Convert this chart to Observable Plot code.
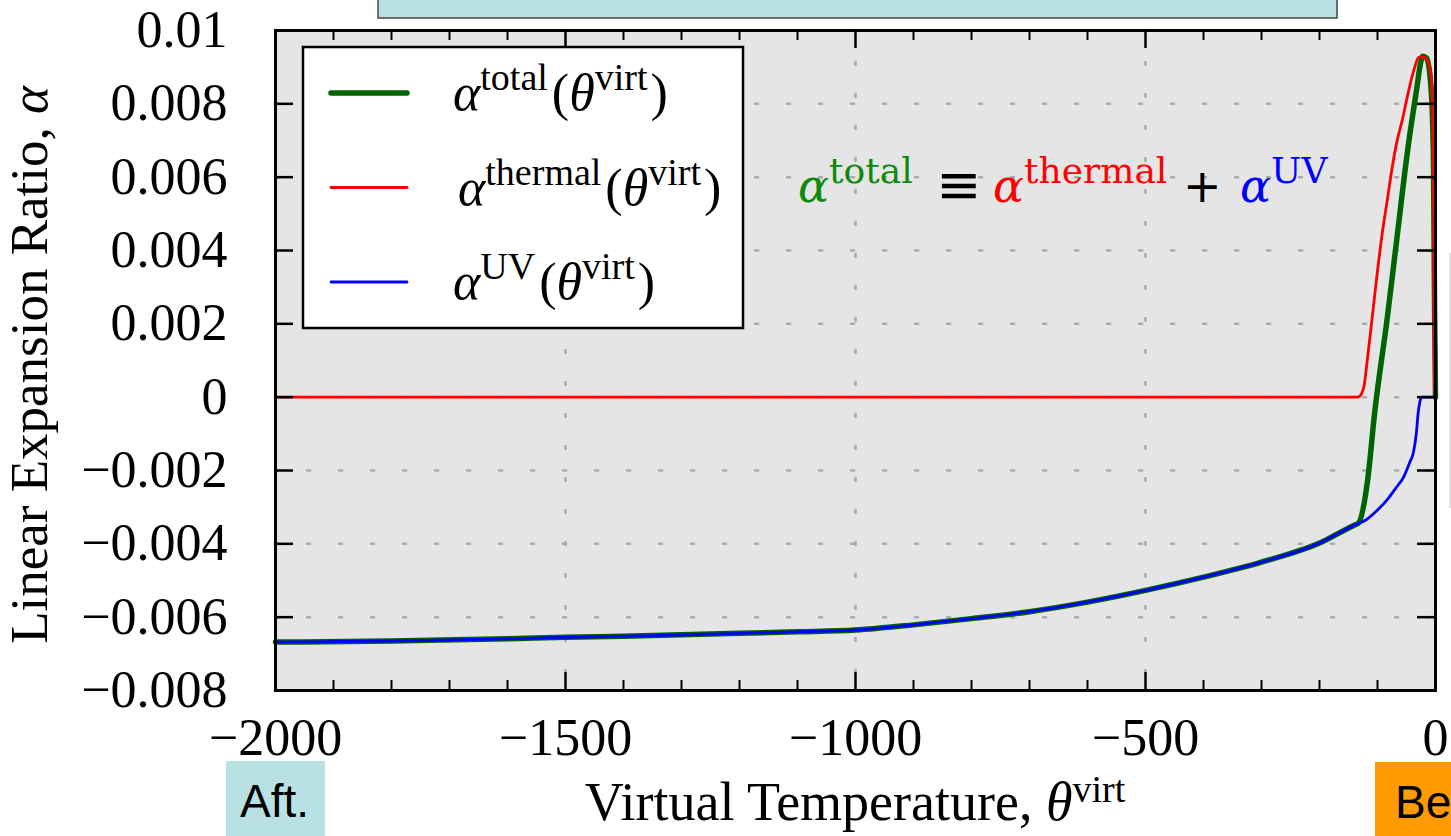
<!DOCTYPE html>
<html><head><meta charset="utf-8">
<script src="https://cdn.jsdelivr.net/npm/d3@7"></script>
<script src="https://cdn.jsdelivr.net/npm/@observablehq/plot@0.6"></script>
<style>
body{margin:0;background:#fff;overflow:hidden}
#chart{position:relative;width:1451px;height:836px}
</style>
</head><body><div id="chart"></div>
<script>
// ---------- data ----------
const xMajorTicks = [-2000, -1500, -1000, -500, 0];
const xMinorTicks = [-1900, -1800, -1700, -1600, -1400, -1300, -1200, -1100, -900, -800, -700, -600, -400, -300, -200, -100];
const xGridTicks = [-1500, -1000, -500];
const yTicks = [-0.008, -0.006, -0.004, -0.002, 0, 0.002, 0.004, 0.006, 0.008, 0.01];

const uvTheta = [-2000, -1800, -1600, -1500, -1400, -1250, -1100, -1000, -900, -800, -700, -600, -500, -400, -300, -200, -140, -120, -100, -80, -67, -55, -45, -38, -33, -30, -27, -24, 0];
const uvAlpha = [-0.00668, -0.00665, -0.00659, -0.00655, -0.00652, -0.00646, -0.00640, -0.00635, -0.00621, -0.00604, -0.00585, -0.00559, -0.00527, -0.00491, -0.00450, -0.00398, -0.00349, -0.00335, -0.00308, -0.00273, -0.00245, -0.00218, -0.00180, -0.00150, -0.00098, -0.00044, -0.00013, 0, 0];

const thermalTheta = [-2000, -135, -132, -123.5, -117.7, -109, -100.5, -91.8, -83.2, -74.6, -66, -57.4, -48.8, -37.3, -28.7, -20, -11.5, -6.9, -4, -2.9, -1.7, 0];
const thermalAlpha = [0, 0, 0.00001, 0.00028, 0.001, 0.00219, 0.00338, 0.00447, 0.00537, 0.00627, 0.00701, 0.00755, 0.00818, 0.00892, 0.00927, 0.00927, 0.0091, 0.00864, 0.0072, 0.00355, 0.0003, 0];

const totalTheta = [-2000, -1800, -1600, -1500, -1400, -1250, -1100, -1000, -900, -800, -700, -600, -500, -400, -300, -200, -140, -133, -117, -105, -83, -65.5, -48, -31, -26, -22, -15.5, -8.6, -5, -3.4, -1.7, 0];
const totalAlpha = [-0.00668, -0.00665, -0.00659, -0.00655, -0.00652, -0.00646, -0.00640, -0.00635, -0.00621, -0.00604, -0.00585, -0.00559, -0.00527, -0.00491, -0.00450, -0.00398, -0.00349, -0.00344, -0.00226, -0.00044, 0.00218, 0.00447, 0.00674, 0.00856, 0.0091, 0.0093, 0.00925, 0.0086, 0.0075, 0.0063, 0.0026, 0];

const seriesNames = ["total", "thermal", "UV"];
const seriesColors = ["#006400", "#ff0000", "#0000ff"];
const eqColors = ["#0c8a0c", "#ff0000", "#0000ff"];
const seriesWidths = [5.5, 2.8, 2.8];

// ---------- layout ----------
const W = 1451, H = 836, mL = 275, mR = 16, mT = 30, mB = 146;
const innerW = W - mL - mR, innerH = H - mT - mB;
const SERIF = "'Liberation Serif', 'Times New Roman', serif";
const SANS = "'Liberation Sans', Arial, sans-serif";
const minus = d => d === 0 ? "0" : String(d).replace("-", "\u2212");
const rows = (th, al) => th.map((t, i) => ({theta: t, alpha: al[i]}));
const seriesData = [rows(totalTheta, totalAlpha), rows(thermalTheta, thermalAlpha), rows(uvTheta, uvAlpha)];

const dotted = {stroke: "#aaaaaa", strokeOpacity: 1, strokeWidth: 2.5, strokeDasharray: "3,29", strokeLinecap: "round"};

const chart = Plot.plot({
  width: W, height: H,
  marginLeft: mL, marginRight: mR, marginTop: mT, marginBottom: mB,
  style: {fontFamily: SERIF, fontSize: "52px", background: "white", color: "black", overflow: "visible"},
  x: {domain: [-2000, 0]},
  y: {domain: [-0.008, 0.01]},
  marks: [
    Plot.frame({fill: "#e5e5e5", stroke: null}),
    Plot.gridX(xGridTicks, dotted),
    Plot.gridY(yTicks, dotted),
    ...seriesData.map((d, i) => Plot.line(d, {x: "theta", y: "alpha", stroke: seriesColors[i], strokeWidth: seriesWidths[i], curve: "monotone-x"})),
    // inward ticks
    Plot.ruleX(xMajorTicks, {x: d => d, insetTop: innerH - 18, stroke: "black", strokeWidth: 2.5}),
    Plot.ruleX(xMajorTicks, {x: d => d, insetBottom: innerH - 18, stroke: "black", strokeWidth: 2.5}),
    Plot.ruleX(xMinorTicks, {x: d => d, insetTop: innerH - 10, stroke: "black", strokeWidth: 2}),
    Plot.ruleX(xMinorTicks, {x: d => d, insetBottom: innerH - 10, stroke: "black", strokeWidth: 2}),
    Plot.ruleY(yTicks, {y: d => d, insetRight: innerW - 18, stroke: "black", strokeWidth: 2.5}),
    Plot.ruleY(yTicks, {y: d => d, insetLeft: innerW - 18, stroke: "black", strokeWidth: 2.5}),
    Plot.axisX(xMajorTicks, {tickSize: 0, tickPadding: 28, tickFormat: minus, label: null, fontSize: 52}),
    Plot.axisY(yTicks, {tickSize: 0, tickPadding: 48, tickFormat: minus, label: null, fontSize: 52}),
    Plot.frame({stroke: "black", strokeWidth: 3})
  ]
});
document.getElementById("chart").appendChild(chart);

// ---------- overlays ----------
const svg = d3.select(chart);

function mathText(parent, x, y, pieces, opts = {}) {
  const t = parent.append("text").attr("x", x).attr("y", y)
    .attr("font-family", opts.family || SERIF).attr("font-size", opts.size || 52)
    .attr("fill", opts.fill || "black")
    .attr("text-anchor", opts.anchor || "start");
  if (opts.transform) t.attr("transform", opts.transform);
  let raised = 0;
  pieces.forEach(p => {
    const s = t.append("tspan").text(p.t);
    const target = p.sup ? -(opts.supShift || 20) : 0;
    if (target !== raised) { s.attr("dy", target - raised); raised = target; }
    if (p.sup) s.attr("font-size", opts.supSize || 38);
    if (p.it) s.attr("font-style", "italic");
    if (p.fill) s.attr("fill", p.fill);
    if (p.gap) s.attr("dx", p.gap);
  });
  return t;
}
function plainText(x, y, str, family, size) {
  return svg.append("text").attr("x", x).attr("y", y).attr("font-family", family)
    .attr("font-size", size).attr("fill", "black").attr("text-anchor", "start").text(str);
}

// banner at top (cropped)
svg.append("rect").attr("x", 378).attr("y", -4).attr("width", 959).attr("height", 22)
  .attr("fill", "#b9e0e3").attr("stroke", "#444").attr("stroke-width", 1.5);

// thin grey line on the far right
svg.append("line").attr("x1", 1450).attr("x2", 1450).attr("y1", 253).attr("y2", 508)
  .attr("stroke", "#d8d8d8").attr("stroke-width", 1.5);

// legend
const lg = svg.append("g");
lg.append("rect").attr("x", 303).attr("y", 47).attr("width", 440).attr("height", 281)
  .attr("fill", "white").attr("stroke", "black").attr("stroke-width", 2.5);
const legendTextX = [453, 458, 453];
seriesNames.forEach((name, i) => {
  const cy = 93 + i * 94.5;
  lg.append("line").attr("x1", 331).attr("x2", 407).attr("y1", cy).attr("y2", cy)
    .attr("stroke", seriesColors[i]).attr("stroke-width", seriesWidths[i]).attr("stroke-linecap", "round");
  mathText(lg, legendTextX[i], cy + 17, [
    {t: "\u03b1", it: true}, {t: name, sup: true}, {t: "(", gap: 4}, {t: "\u03b8", it: true}, {t: "virt", sup: true}, {t: ")", gap: 3}
  ]);
});

// equation annotation
const eqX = [798, 993, 1240];
seriesNames.forEach((name, i) => {
  mathText(svg, eqX[i], 202, [{t: "\u03b1", it: true}, {t: name, sup: true}],
    {family: "'DejaVu Serif', serif", size: 46, supSize: 36, supShift: 19, fill: eqColors[i]});
});
plainText(936, 203, "\u2261", "'DejaVu Sans', sans-serif", 54);
plainText(1183, 202, "+", "'DejaVu Sans', sans-serif", 46);

// axis titles
mathText(svg, (mL + W - mR) / 2, 820, [{t: "Virtual Temperature, "}, {t: "\u03b8", it: true}, {t: "virt", sup: true}],
  {anchor: "middle", size: 54, supSize: 38, supShift: 18});
mathText(svg, 0, 0, [{t: "Linear Expansion Ratio, "}, {t: "\u03b1", it: true}],
  {anchor: "middle", size: 53, transform: "translate(47,365) rotate(-90)"});

// bottom tags
svg.append("rect").attr("x", 226).attr("y", 761).attr("width", 99).attr("height", 80).attr("fill", "#b9e0e3");
plainText(240, 817, "Aft.", SANS, 46);
svg.append("rect").attr("x", 1375).attr("y", 762).attr("width", 80).attr("height", 80).attr("fill", "#ff9a00");
plainText(1395, 818, "Be", SANS, 46);
</script>
</body></html>
